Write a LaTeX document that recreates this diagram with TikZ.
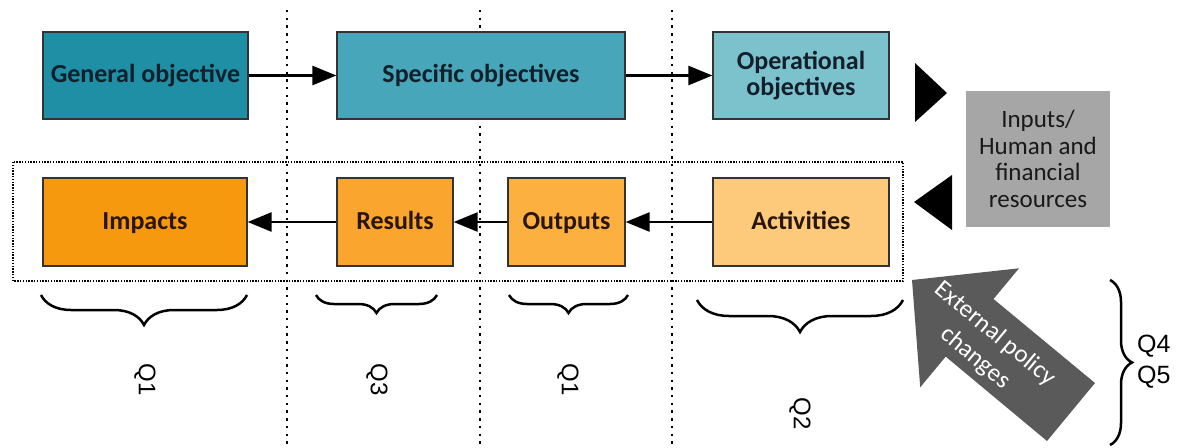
\documentclass[tikz,border=0pt]{standalone}
\usepackage{fontspec}
\setmainfont{Carlito}
\newfontfamily\qfont{Liberation Sans}
\usetikzlibrary{arrows.meta,decorations.pathreplacing}
\definecolor{cgen}{HTML}{1E8FA5}
\definecolor{cspec}{HTML}{48A6BB}
\definecolor{coper}{HTML}{7BC2CD}
\definecolor{cimp}{HTML}{F7990F}
\definecolor{cres}{HTML}{F9A52E}
\definecolor{cout}{HTML}{FBB040}
\definecolor{cact}{HTML}{FDCA7C}
\definecolor{cgray}{HTML}{A6A6A6}
\definecolor{carrow}{HTML}{5A5A5A}
\definecolor{tblue}{HTML}{13202B}
\definecolor{tbrown}{HTML}{2A1608}
\begin{document}
\begin{tikzpicture}[x=1pt,y=-1pt,
  box/.style={draw=black!80, line width=1.3pt, inner sep=0pt, align=center,
    font=\fontsize{26}{26}\selectfont\bfseries},
  oneline/.style={text height=18pt, text depth=4pt},
  conn/.style={line width=2.6pt, -{Triangle[length=24pt,width=19pt]}},
  vdots/.style={line width=2.4pt, dash pattern=on 2.4pt off 5.3pt},
  qbrace/.style={decorate, decoration={brace, amplitude=#1}, line width=2.5pt},
  qlab/.style={font=\qfont\fontsize{24}{26}\selectfont, rotate=-90}
]
\useasboundingbox (0,0) rectangle (1177,447);
% dotted separators
\draw[vdots] (287,10) -- (287,447);
\draw[vdots] (480,10) -- (480,447);
\draw[vdots] (672,10) -- (672,447);
% dotted frame
\draw[line width=1.4pt, dash pattern=on 1.4pt off 1.4pt] (13,162) rectangle (903,281);
% top row
\node[box, oneline, fill=cgen, text=tblue, minimum width=205pt, minimum height=87pt] (gen) at (145.5,75.5) {General objective};
\node[box, oneline, fill=cspec, text=tblue, minimum width=288pt, minimum height=87pt] (spec) at (481,75.5) {Specific objectives};
\node[box, fill=coper, text=tblue, minimum width=176pt, minimum height=87pt] (oper) at (801,75.5) {Operational\\objectives};
% bottom row
\node[box, oneline, fill=cimp, text=tbrown, minimum width=204pt, minimum height=88pt] (imp) at (145,222) {Impacts};
\node[box, oneline, fill=cres, text=tbrown, minimum width=116pt, minimum height=88pt] (res) at (395,222) {Results};
\node[box, oneline, fill=cout, text=tbrown, minimum width=117pt, minimum height=88pt] (out) at (566.5,222) {Outputs};
\node[box, oneline, fill=cact, text=tbrown, minimum width=176pt, minimum height=88pt] (act) at (801,222) {Activities};
% connectors
\draw[conn] (gen) -- (spec);
\draw[conn] (spec) -- (oper);
\draw[conn] (act) -- (out);
\draw[conn] (out) -- (res);
\draw[conn] (res) -- (imp);
% inputs box and triangles
\node[fill=cgray, minimum width=144pt, minimum height=136pt, inner sep=0pt, align=center,
  font=\fontsize{25}{26.5}\selectfont, text=black!90] (inp) at (1038,159) {Inputs/\\Human and\\financial\\resources};
\fill[black] (915,63) -- (947,93) -- (915,122) -- cycle;
\fill[black] (952,175) -- (914,202) -- (952,230) -- cycle;
% external policy arrow
\fill[carrow] (1095,383) -- (993.5,299) -- (1019,268.3) -- (912,280) -- (920.2,387.3) -- (945.7,356.6) -- (1047,441) -- cycle;
\node[text=white, align=center, rotate=-39.7, inner sep=0pt, font=\fontsize{25}{31}\selectfont] (ext) at (985,346) {External policy\\changes};
% braces
\draw[qbrace=30pt] (247,295) -- (41,295);
\draw[qbrace=18pt] (437,295) -- (316,295);
\draw[qbrace=18pt] (628,295) -- (509,295);
\draw[qbrace=32pt] (903,300) -- (697,300);
\draw[qbrace=22pt] (1110,280) -- (1110,445);
% question labels
\node[qlab] (q1a) at (145,380) {Q1};
\node[qlab] (q3) at (377,380) {Q3};
\node[qlab] (q1b) at (568,380) {Q1};
\node[qlab] (q2) at (800,414) {Q2};
\node[font=\qfont\fontsize{25}{31}\selectfont, align=left, anchor=west, inner sep=0pt] (q45) at (1137,362) {Q4\\Q5};
\end{tikzpicture}
\end{document}
